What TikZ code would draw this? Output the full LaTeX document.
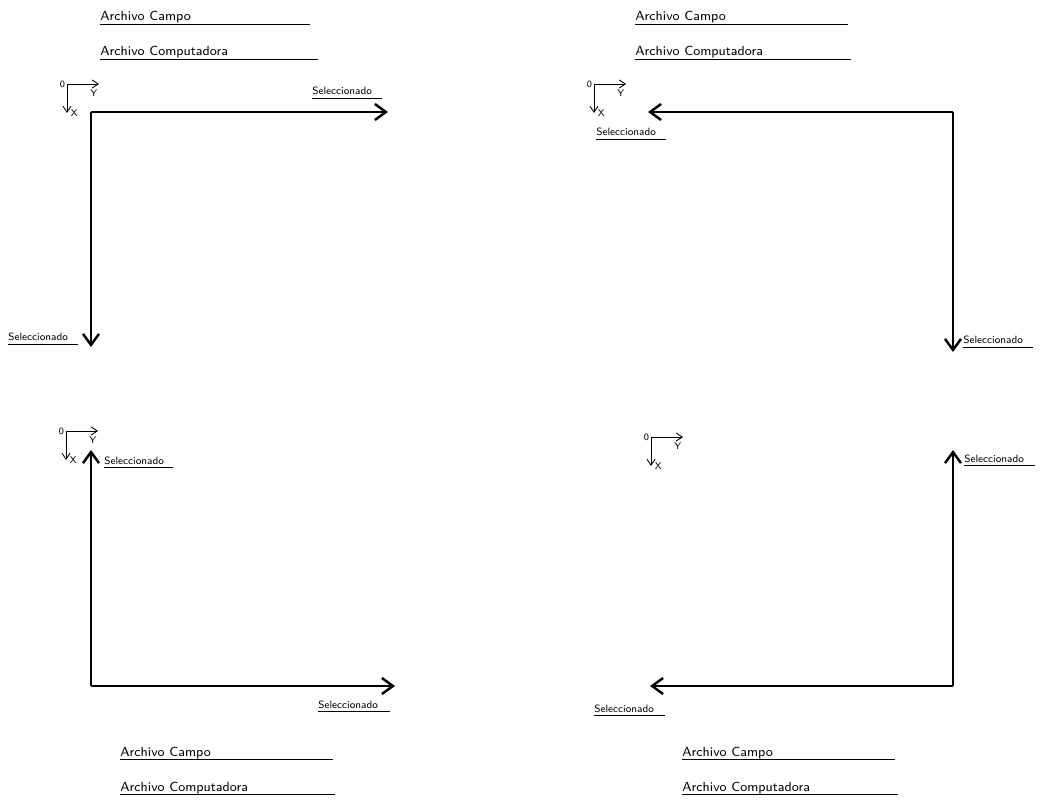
\documentclass[tikz,border=0pt]{standalone}
\usepackage{tikz}
\usetikzlibrary{arrows.meta}
\tikzset{
  lbl/.style={font=\sffamily\fontsize{7.5}{8}\selectfont, inner sep=0pt, anchor=base west},
  sel/.style={font=\sffamily\fontsize{6}{7}\selectfont, inner sep=0pt, anchor=base west},
  axe/.style={-{Straight Barb[length=2.2mm,width=3.2mm,line width=1.4pt]}, line width=0.8pt},
  ico/.style={-{Straight Barb[length=1.2mm,width=1.6mm]}, line width=0.5pt},
  tag/.style={font=\sffamily\fontsize{5.5}{6}\selectfont, inner sep=0pt}
}
\begin{document}
\begin{tikzpicture}[x=0.02cm,y=-0.02cm]
\useasboundingbox (0,0) rectangle (1040,803);
% archivos
\foreach \i/\x/\y/\a/\b in {1/100/21/210/218,2/635/21/213/216,3/120/756/213/215,4/682/756/213/216}{
  \node[lbl] (ca\i) at (\x,\y) {Archivo Campo};
  \draw (ca\i.base west) ++(0,3) -- ++(\a,0);
  \node[lbl] (co\i) at (\x,\y+35) {Archivo Computadora};
  \draw (co\i.base west) ++(0,3) -- ++(\b,0);
}
% ejes pequenos
\foreach \i/\x/\y in {1/67/84,2/594/84,3/66/431,4/651/437}{
  \coordinate (e\i) at (\x,\y);
  \node[tag, anchor=east] (n\i) at ([xshift=-1]e\i) {0};
  \draw[ico] (e\i) -- ++(32,0) node[tag, anchor=north, xshift=-3pt, yshift=-3pt] (y\i) {Y};
  \draw[ico] (e\i) -- ++(0,29) node[tag, anchor=west, xshift=2pt] (x\i) {X};
}
% panel 1
\coordinate (o1) at (91,112);
\coordinate (h1) at (388,112);
\coordinate (v1) at (91,347);
\draw[axe] (o1) -- (h1);
\draw[axe] (o1) -- (v1);
\node[sel] (s1) at (312,95) {Seleccionado};
\draw (s1.base west) ++(0,3) -- ++(70,0);
\node[sel] (s2) at (8,341) {Seleccionado};
\draw (s2.base west) ++(0,3) -- ++(70,0);
% panel 2
\coordinate (o2) at (953,112);
\coordinate (h2) at (648,112);
\coordinate (v2) at (953,352);
\draw[axe] (o2) -- (h2);
\draw[axe] (o2) -- (v2);
\node[sel] (s3) at (596,136) {Seleccionado};
\draw (s3.base west) ++(0,3) -- ++(70,0);
\node[sel] (s4) at (963,344) {Seleccionado};
\draw (s4.base west) ++(0,3) -- ++(70,0);
% panel 3
\coordinate (o3) at (91,686);
\coordinate (h3) at (395,686);
\coordinate (v3) at (91,450);
\draw[axe] (o3) -- (h3);
\draw[axe] (o3) -- (v3);
\node[sel] (s5) at (104,464) {Seleccionado};
\draw (s5.base west) ++(0,3) -- ++(69,0);
\node[sel] (s6) at (318,708) {Seleccionado};
\draw (s6.base west) ++(0,3) -- ++(72,0);
% panel 4
\coordinate (o4) at (953,686);
\coordinate (h4) at (650,686);
\coordinate (v4) at (953,450);
\draw[axe] (o4) -- (h4);
\draw[axe] (o4) -- (v4);
\node[sel] (s7) at (964,462) {Seleccionado};
\draw (s7.base west) ++(0,3) -- ++(71,0);
\node[sel] (s8) at (594,712) {Seleccionado};
\draw (s8.base west) ++(0,3) -- ++(71,0);
\end{tikzpicture}
\end{document}
